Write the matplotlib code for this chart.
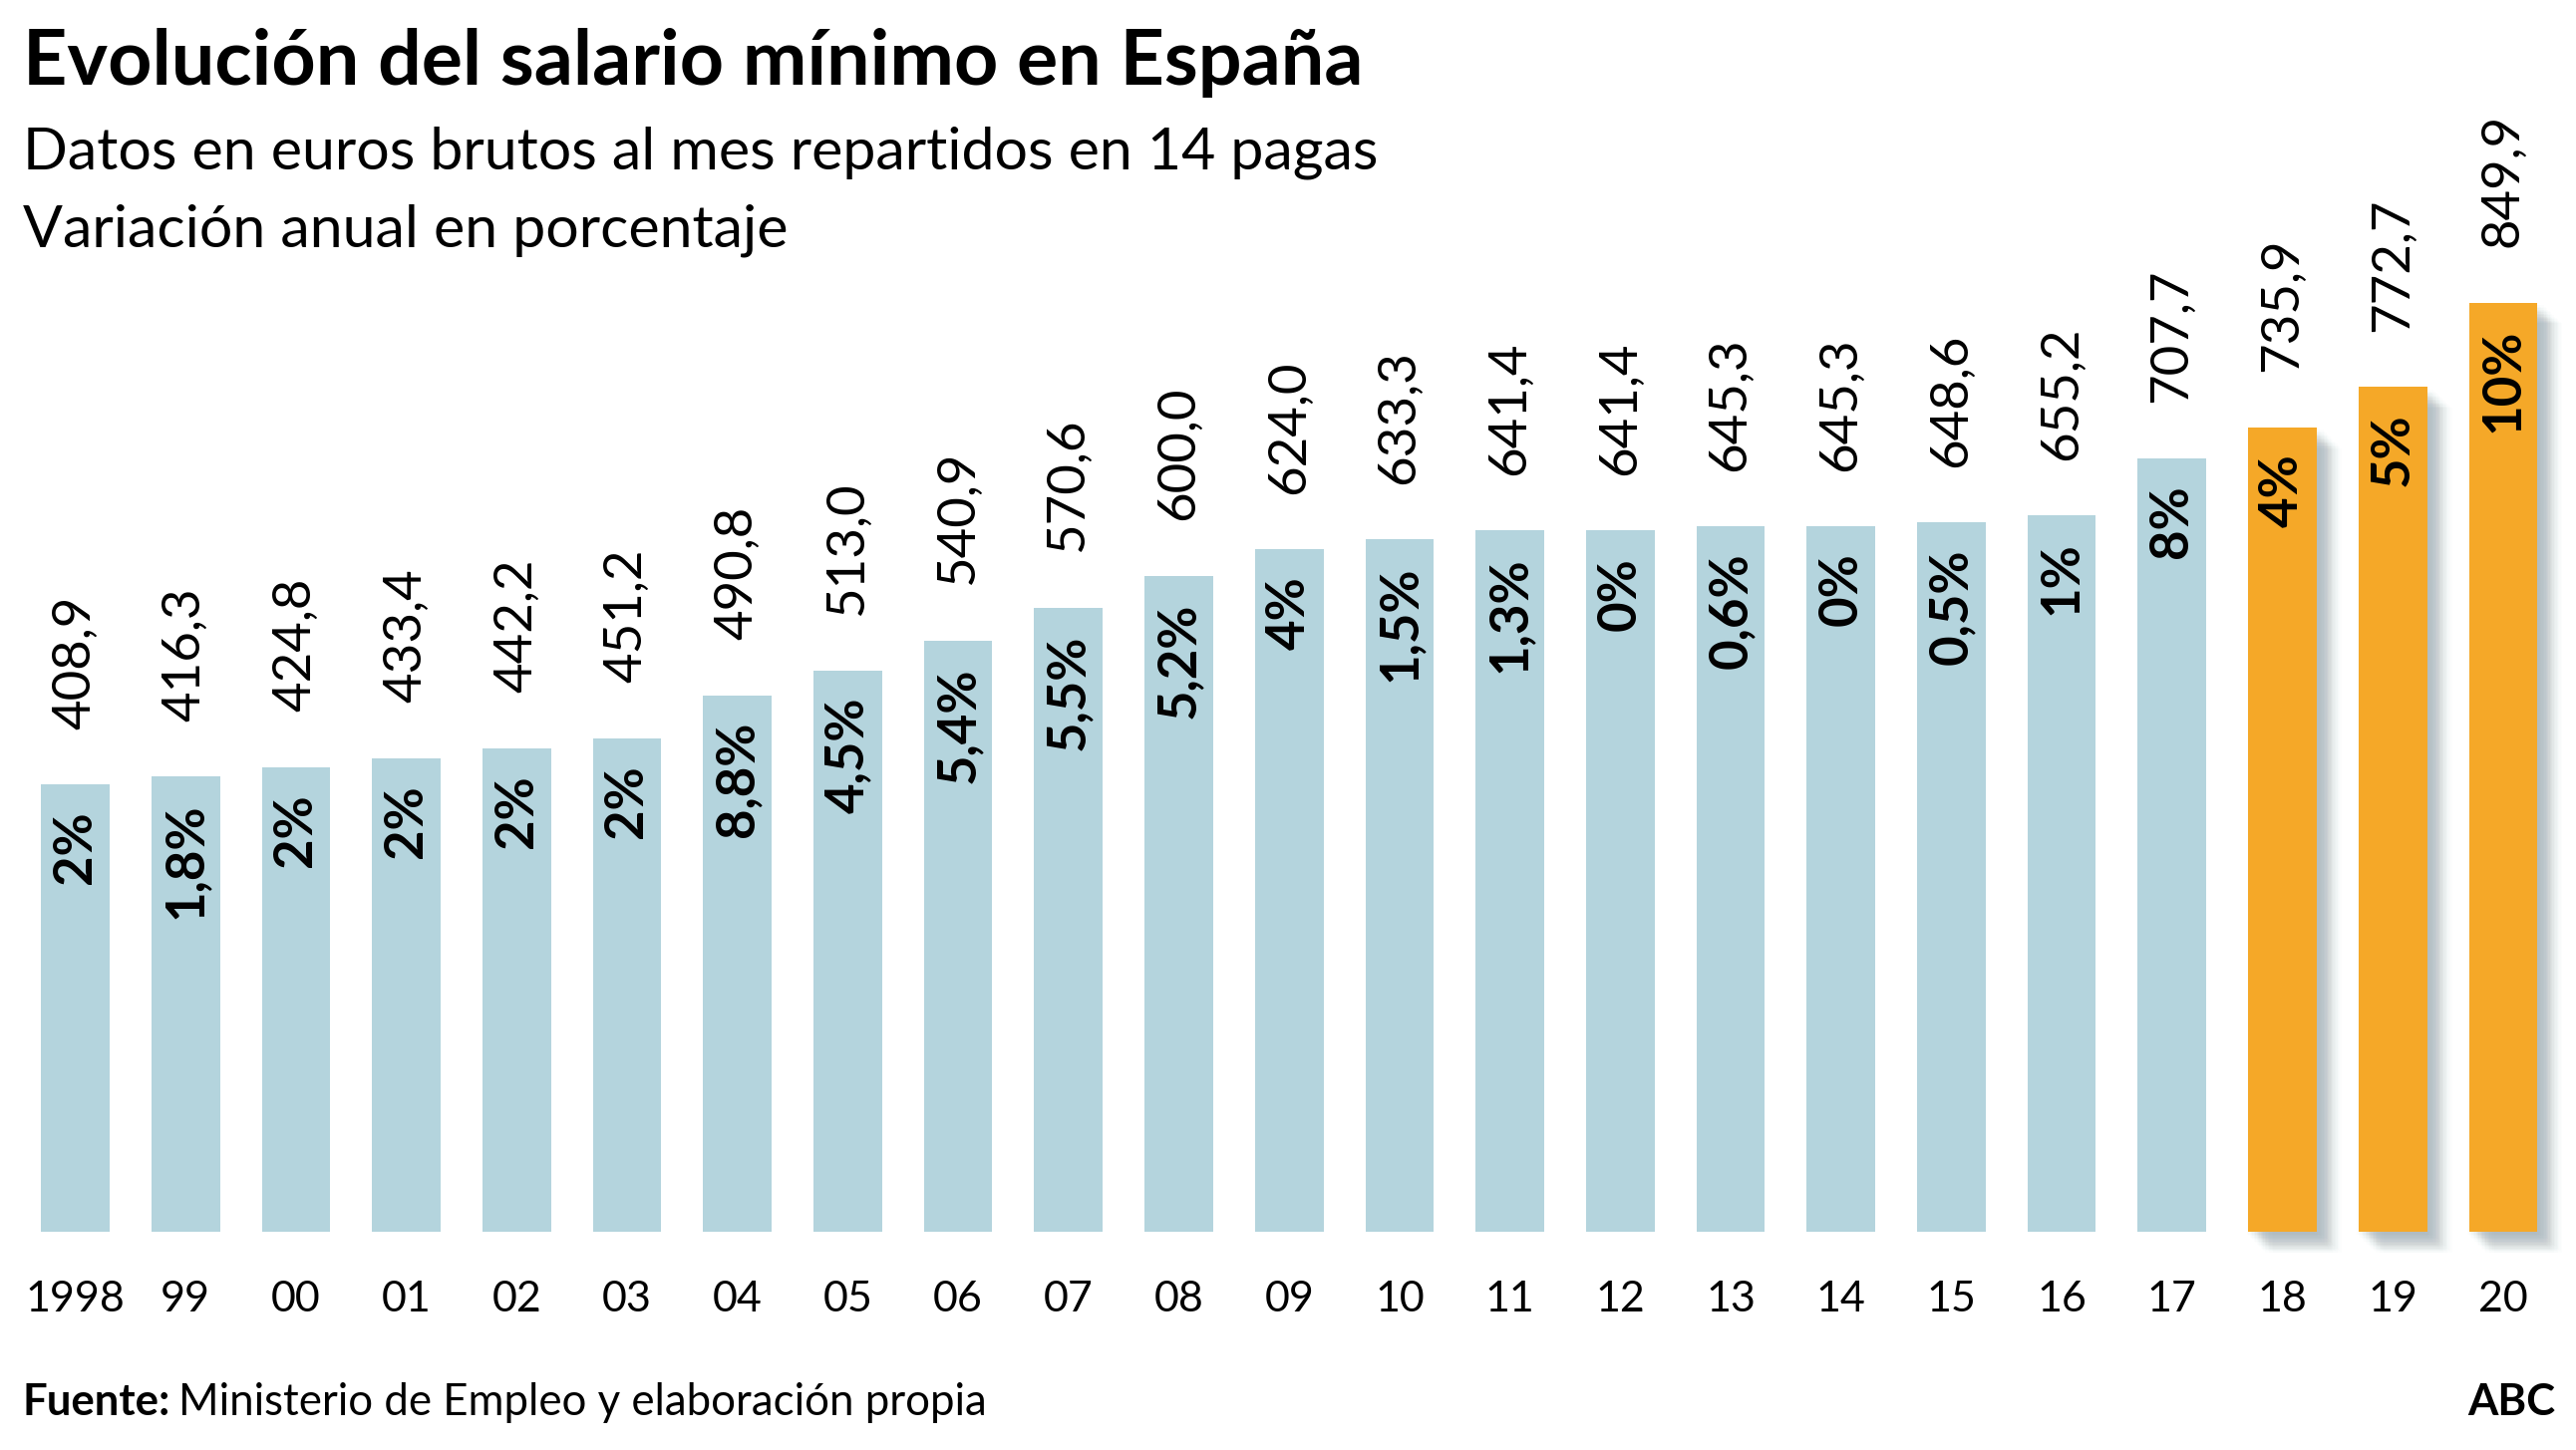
import matplotlib.pyplot as plt
import matplotlib.patheffects as pe

plt.rcParams['font.family'] = ['Lato', 'DejaVu Sans']

# data
years = ["1998", "99", "00", "01", "02", "03", "04", "05", "06", "07", "08", "09",
         "10", "11", "12", "13", "14", "15", "16", "17", "18", "19", "20"]
salary = [408.9, 416.3, 424.8, 433.4, 442.2, 451.2, 490.8, 513.0, 540.9, 570.6,
          600.0, 624.0, 633.3, 641.4, 641.4, 645.3, 645.3, 648.6, 655.2, 707.7,
          735.9, 772.7, 849.9]
variation = ["2%", "1,8%", "2%", "2%", "2%", "2%", "8,8%", "4,5%", "5,4%", "5,5%",
             "5,2%", "4%", "1,5%", "1,3%", "0%", "0,6%", "0%", "0,5%", "1%", "8%",
             "4%", "5%", "10%"]
highlight_from = "18"

blue = "#b4d4dd"
orange = "#f5a828"

fig = plt.figure(figsize=(25.84, 14.55), dpi=100)
ax = fig.add_axes([0, 1 - 1236 / 1455, 1, 1236 / 1455])

x = list(range(len(years)))
first_hi = years.index(highlight_from)
colors = [blue if i < first_hi else orange for i in x]

# soft shadow for the highlighted bars (stacked faint copies = fake blur)
shadow = []
for a in range(2, 16):
    for d in (-3, 0, 3):
        shadow.append(pe.SimplePatchShadow(offset=(a + d, -a), shadow_rgbFace="#8a9aa5",
                                           alpha=0.018))
shadow.append(pe.Normal())

bars = ax.bar(x, salary, width=0.62, color=colors, zorder=2)
for i, b in enumerate(bars):
    if i >= first_hi:
        b.set_path_effects(shadow)
        b.set_clip_on(False)

for i, (v, p) in enumerate(zip(salary, variation)):
    lbl = f"{v:.1f}".replace(".", ",")
    ax.annotate(lbl, (i, v), xytext=(0, 40), textcoords="offset points",
                rotation=90, ha="center", va="bottom", fontsize=38, color="black")
    ax.annotate(p, (i, v), xytext=(0, -19), textcoords="offset points",
                rotation=90, ha="center", va="top", fontsize=38,
                fontweight="bold", color="black", zorder=3)

ax.set_xlim(-75.5 / 110.7, (2584 - 75.5) / 110.7)
ax.set_ylim(0, 1236 / 1.097)
ax.axis("off")

for i, yl in enumerate(years):
    fig.text((75.5 + 110.7 * i) / 2584, 1 - 1304 / 1455, yl,
             ha="center", va="center", fontsize=31)

fig.text(23 / 2584, 1 - 85 / 1455, "Evolución del salario mínimo en España",
         fontsize=55.5, fontweight="bold", va="baseline", ha="left")
fig.text(23 / 2584, 1 - 170 / 1455, "Datos en euros brutos al mes repartidos en 14 pagas",
         fontsize=42.5, va="baseline", ha="left")
fig.text(23 / 2584, 1 - 248 / 1455, "Variación anual en porcentaje",
         fontsize=42.5, va="baseline", ha="left")

src = fig.text(23 / 2584, 1 - 1420 / 1455, "Fuente:", fontsize=31.5,
               fontweight="bold", va="baseline", ha="left")
fig.canvas.draw()
bb = src.get_window_extent()
fig.text((bb.x1 + 8) / 2584, 1 - 1420 / 1455,
         "Ministerio de Empleo y elaboración propia",
         fontsize=31.5, va="baseline", ha="left")
fig.text(2563 / 2584, 1 - 1420 / 1455, "ABC", fontsize=31.5,
         fontweight="bold", va="baseline", ha="right")

fig.savefig("out.png", dpi=100, facecolor="white")
